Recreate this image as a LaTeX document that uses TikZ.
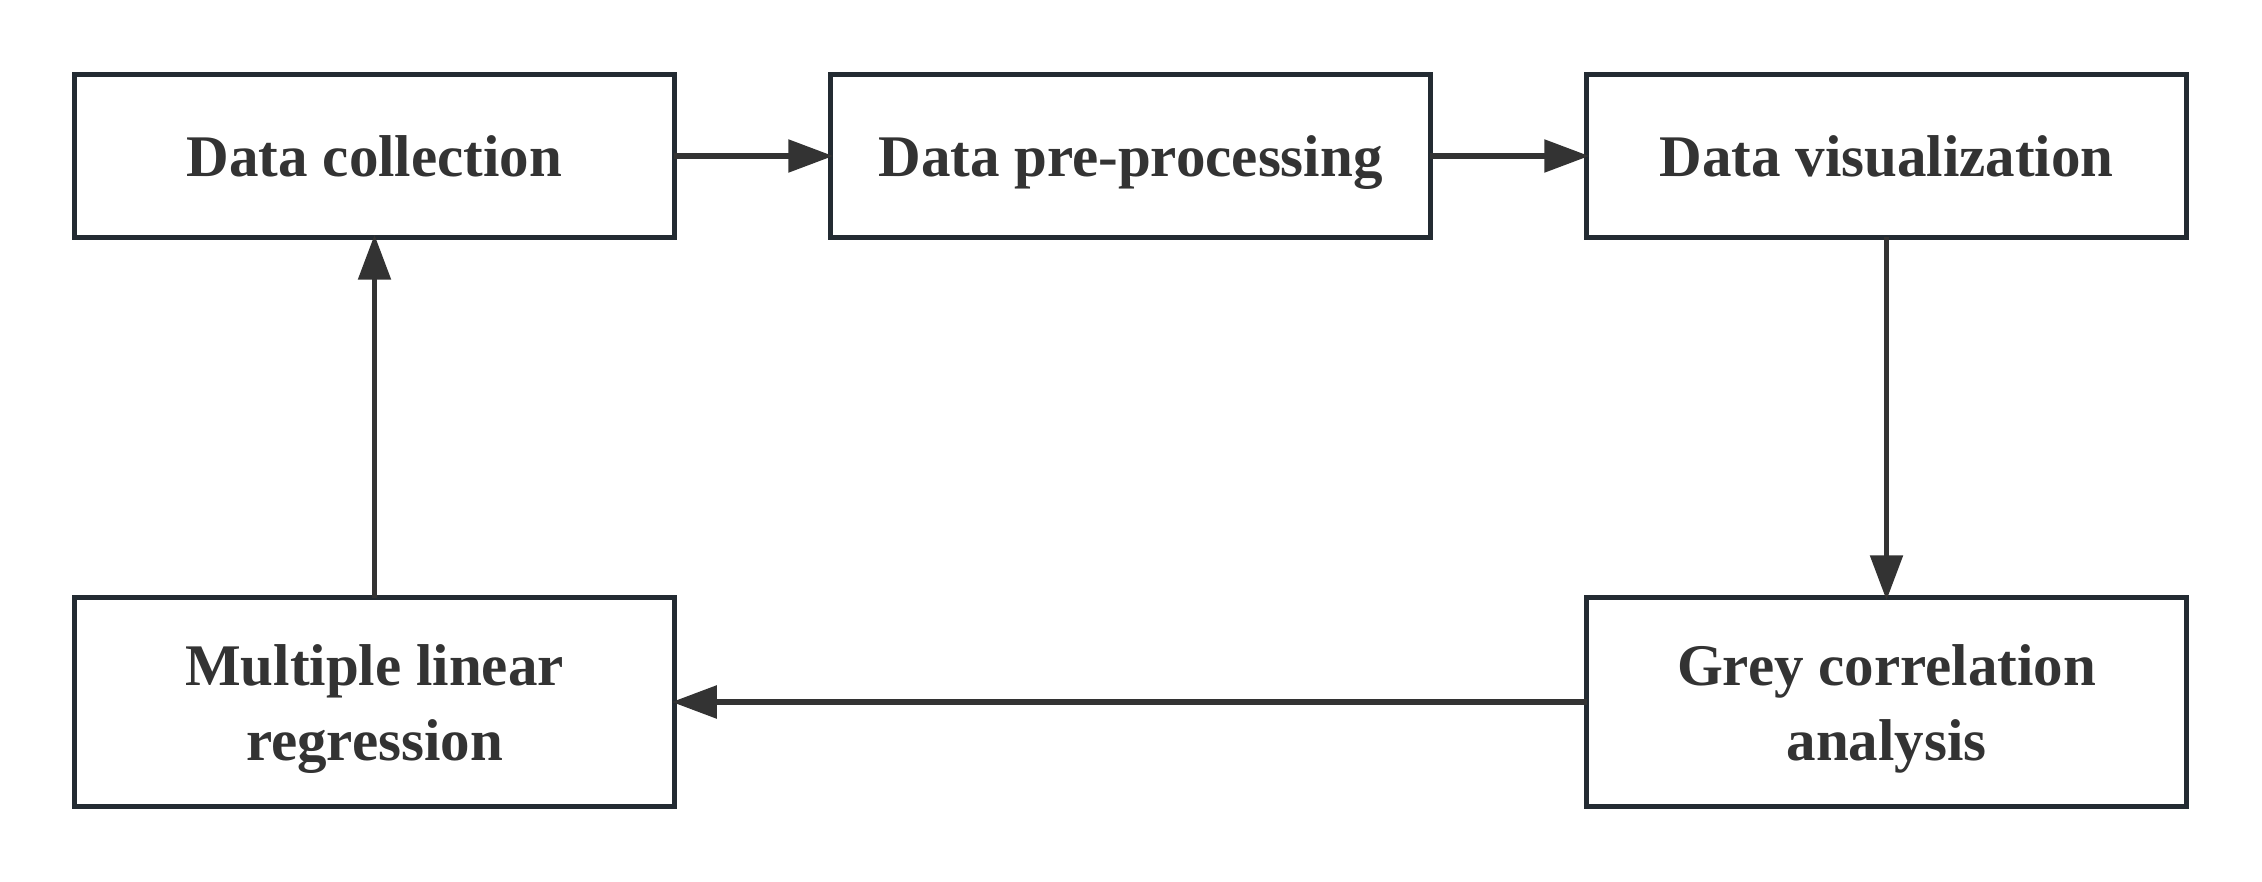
\documentclass[tikz,border=0pt]{standalone}
\usepackage{fontspec}
\setmainfont{Liberation Serif}
\usetikzlibrary{arrows.meta}
\definecolor{boxline}{RGB}{35,43,50}
\definecolor{ink}{RGB}{51,51,51}
\begin{document}
\begin{tikzpicture}[x=1pt,y=1pt,
  stepbox/.style={draw=boxline, line width=5.3pt, outer sep=0pt, inner sep=0pt,
    minimum width=599.7pt},
  topbox/.style={stepbox, minimum height=162.7pt},
  lowbox/.style={stepbox, minimum height=208.7pt},
  caption/.style={text=ink, font=\bfseries\fontsize{59}{75}\selectfont,
    align=center, inner sep=0pt},
  flow/.style={draw=ink, line width=5.5pt,
    -{Triangle[length=45pt,width=32pt]}, shorten >=-2.6pt}]
\useasboundingbox (0,0) rectangle (2262,-882);

% process boxes
\node[topbox] (collect) at (374.5,-156) {};
\node[topbox] (prep)    at (1130.5,-156) {};
\node[topbox] (visual)  at (1886.5,-156) {};
\node[lowbox] (regress) at (374.5,-702) {};
\node[lowbox] (grey)    at (1886.5,-702) {};

% box captions
\node[caption, anchor=base] (tcollect) at ([yshift=-21pt]collect.center) {Data collection};
\node[caption, anchor=base] (tprep)    at ([yshift=-21pt]prep.center) {Data pre-processing};
\node[caption, anchor=base] (tvisual)  at ([yshift=-21pt]visual.center) {Data visualization};
\node[caption] (tregress) at ([yshift=-7pt]regress.center) {Multiple linear\\regression};
\node[caption] (tgrey)    at ([yshift=-7pt]grey.center) {Grey correlation\\analysis};

% workflow arrows
\draw[flow] (collect) -- (prep);
\draw[flow] (prep) -- (visual);
\draw[flow] (visual) -- (grey);
\draw[flow] (grey) -- (regress);
\draw[flow] (regress) -- (collect);
\end{tikzpicture}
\end{document}
